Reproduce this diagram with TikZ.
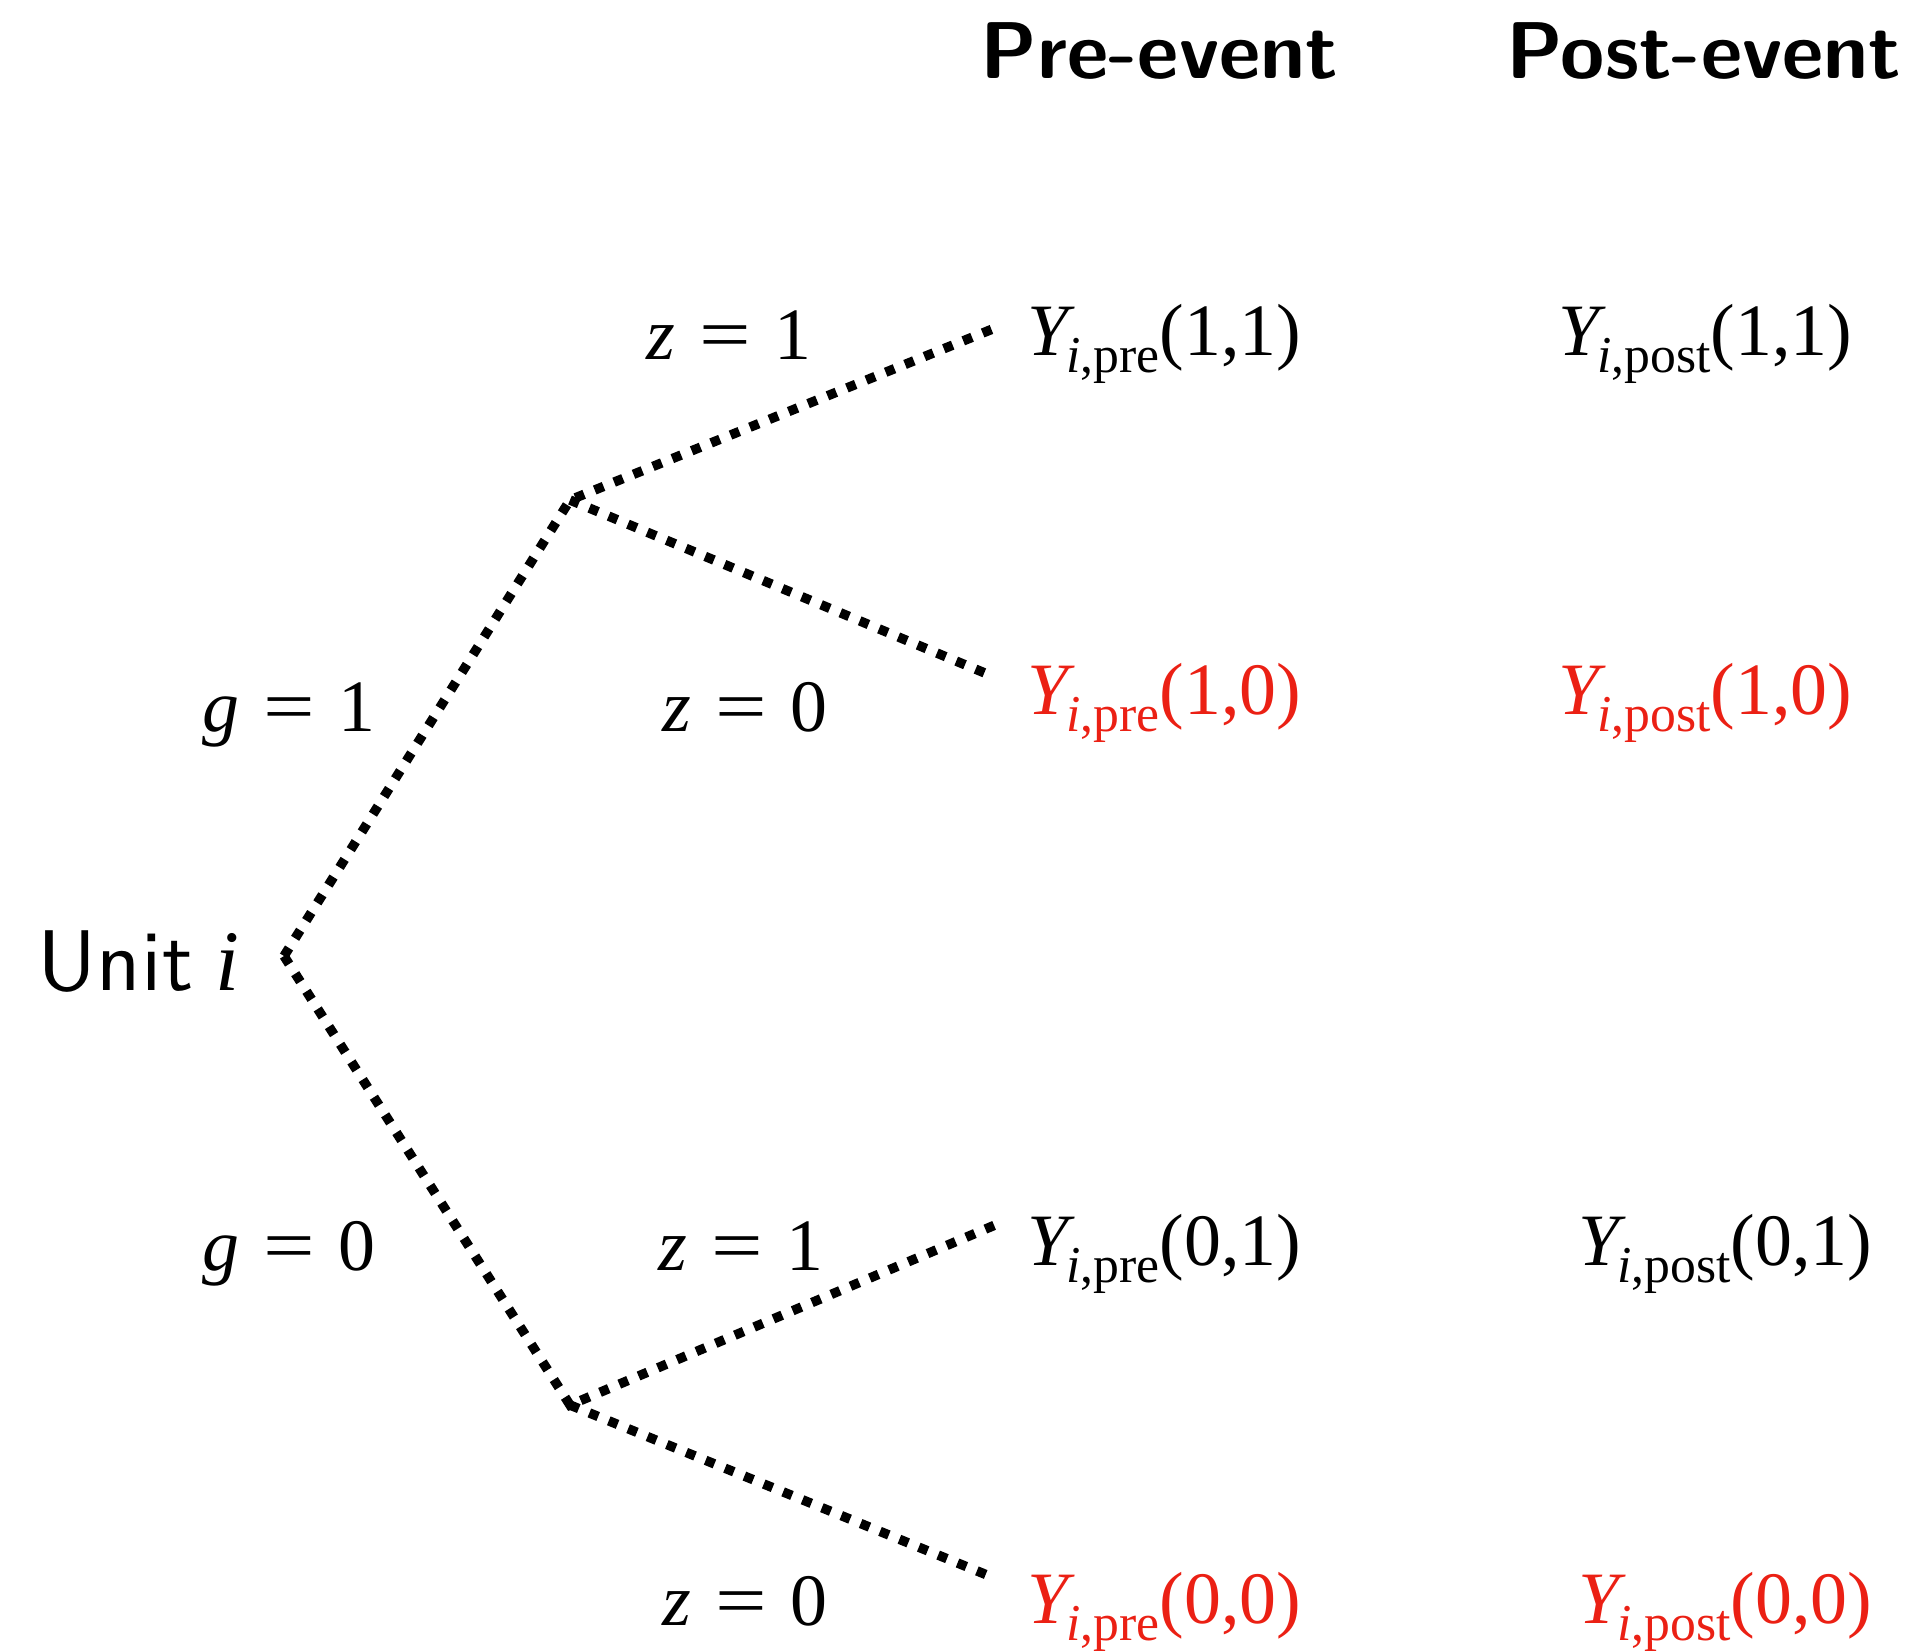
\documentclass[tikz,border=0pt]{standalone}
\usepackage{graphicx}
\usepackage{fontspec}
\setmainfont{Liberation Serif}
\setsansfont{lmsans10}[Extension=.otf, UprightFont=*-regular, BoldFont=*-bold]
\usetikzlibrary{positioning}
\definecolor{cfred}{RGB}{235,32,20}
\newcommand{\potY}[2]{\textit{Y}\kern-0.12em\raisebox{-0.24em}{\fontsize{14.7}{16}\selectfont\textit{i},#1}(#2)}
\newcommand{\eqlab}[2]{\textit{#1}\hspace{0.32em}\scalebox{1.24}[1]{=}\hspace{0.32em}#2}

\begin{document}
\begin{tikzpicture}[x=0.01cm, y=-0.01cm,
  branch/.style={line width=2.7pt, dash pattern=on 2.7pt off 3.25pt},
  head/.style={anchor=base west, inner sep=0pt,
               font=\sffamily\bfseries\fontsize{22.9}{27}\selectfont},
  lab/.style={anchor=base west, inner sep=0pt, font=\fontsize{21}{25}\selectfont},
  miss/.style={lab, text=cfred}
]
  \useasboundingbox (0,0) rectangle (1921,1650);

  % column heads
  \node[head] (pre)  at (980,78)  {Pre-event};
  \node[head] (post) at (1506,78) {Post-event};

  \node[lab, font=\sffamily\fontsize{24.5}{29}\selectfont] (unit) at (37,990)
    {Unit\kern-0.07em\ {\rmfamily\itshape i}};

  % branch points
  \coordinate (root) at (284,956);
  \coordinate (g1)   at (570,500);
  \coordinate (g0)   at (570,1405);
  \coordinate (g1z1) at (995,328);
  \coordinate (g1z0) at (992,676);
  \coordinate (g0z1) at (995,1225);
  \coordinate (g0z0) at (992,1577);

  \draw[branch] (root) -- (g1) -- (g1z1);
  \draw[branch] (g1) -- (g1z0);
  \draw[branch] (root) -- (g0) -- (g0z1);
  \draw[branch] (g0) -- (g0z0);

  % labels on the branches
  \node[lab] (lg1)   at (202,731)  {\eqlab{g}{1}};
  \node[lab] (lg0)   at (202,1270) {\eqlab{g}{0}};
  \node[lab] (lg1z1) at (646,359)  {\eqlab{z}{1}};
  \node[lab] (lg1z0) at (662,731)  {\eqlab{z}{0}};
  \node[lab] (lg0z1) at (658,1270) {\eqlab{z}{1}};
  \node[lab] (lg0z0) at (662,1625) {\eqlab{z}{0}};

  % potential outcomes
  \node[lab]  (pre11)  at (1027,355)  {\potY{pre}{1,1}};
  \node[miss] (pre10)  at (1027,714)  {\potY{pre}{1,0}};
  \node[lab]  (pre01)  at (1027,1265) {\potY{pre}{0,1}};
  \node[miss] (pre00)  at (1027,1623) {\potY{pre}{0,0}};
  \node[lab]  (post11) at (1558,355)  {\potY{post}{1,1}};
  \node[miss] (post10) at (1558,714)  {\potY{post}{1,0}};
  \node[lab]  (post01) at (1578,1265) {\potY{post}{0,1}};
  \node[miss] (post00) at (1578,1623) {\potY{post}{0,0}};
\end{tikzpicture}
\end{document}
